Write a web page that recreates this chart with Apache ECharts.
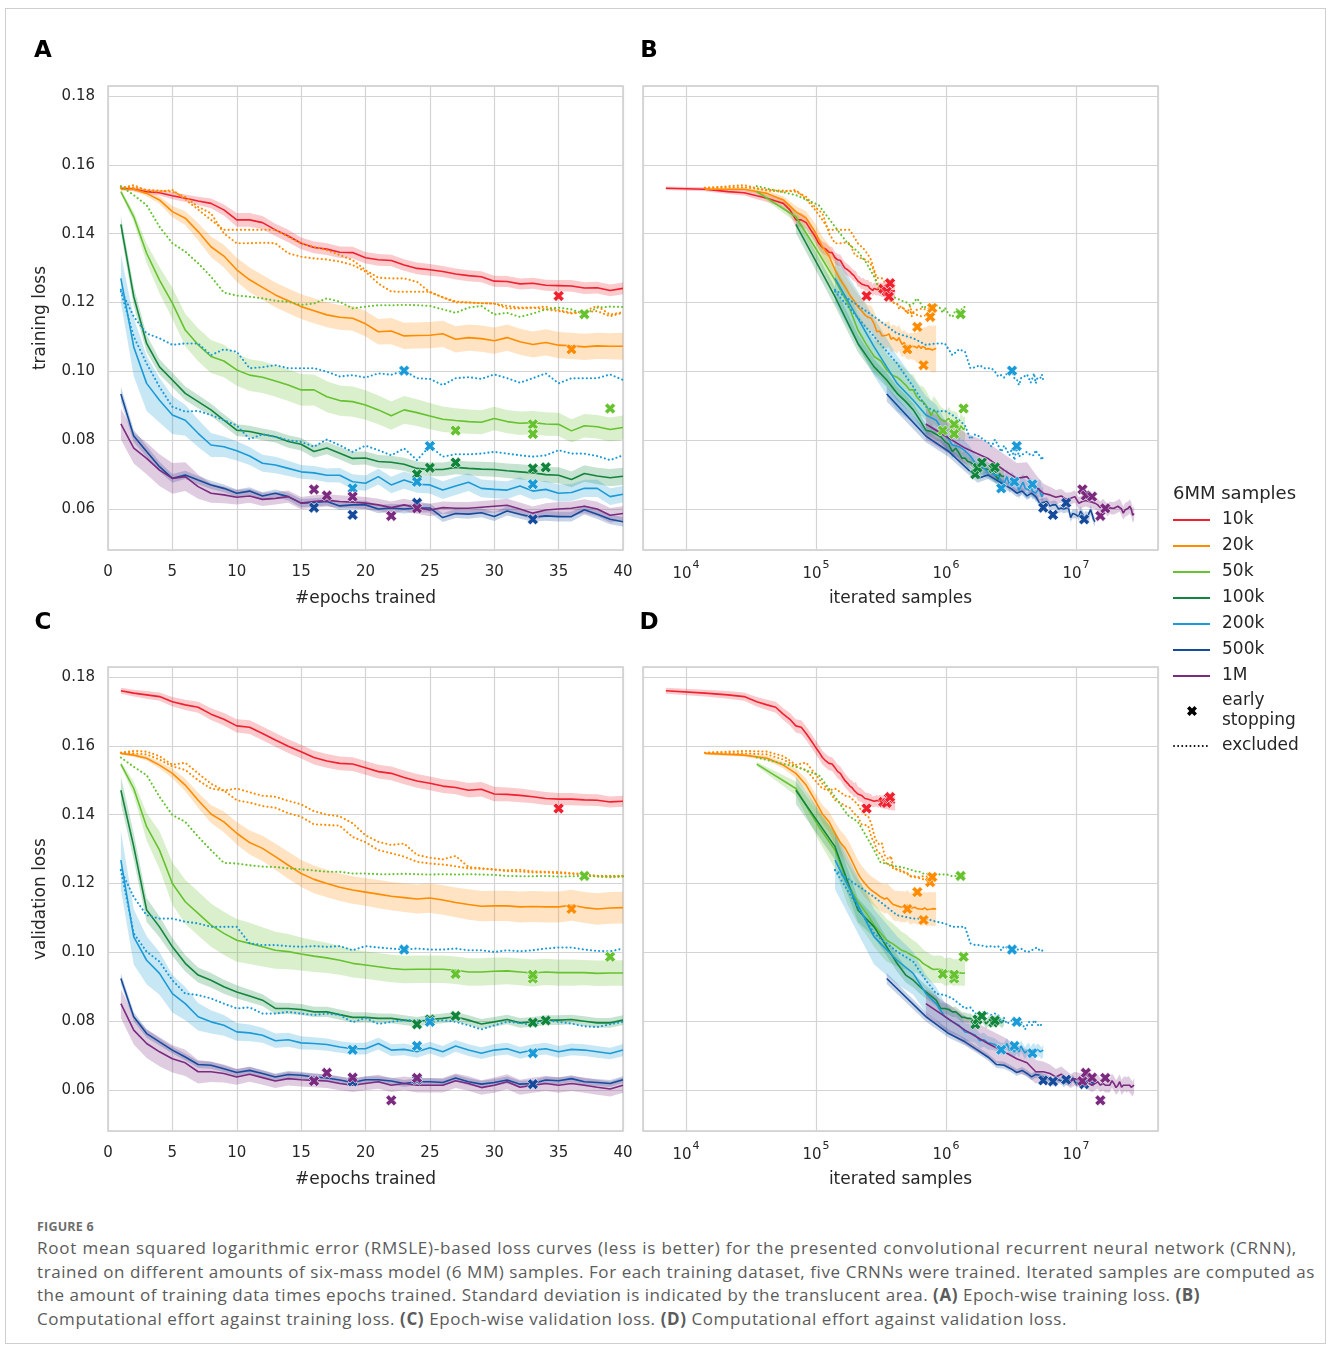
<!DOCTYPE html>
<html>
<head>
<meta charset="utf-8">
<script src="https://cdn.jsdelivr.net/npm/echarts@6/dist/echarts.min.js"></script>
<style>
  html, body { margin: 0; padding: 0; background: #fff; }
  #frame { position: absolute; left: 5px; top: 8px; width: 1321px; height: 1336px; border: 1px solid #cfcfcf; box-sizing: border-box; }
  #chart { position: absolute; left: 0; top: 0; width: 1328px; height: 1200px; }
  #caption { position: absolute; left: 37px; top: 1218px; font-family: "Open Sans", sans-serif; color: #5b5b5b; }
  #caption .fig { font-size: 12.5px; font-weight: 700; color: #6e6e6e; letter-spacing: 0.2px; height: 18px; }
  #caption .ln { font-size: 17px; line-height: 23.6px; white-space: nowrap; display: block; }
  #caption .ln span { display: inline-block; }
</style>
</head>
<body>
<div id="frame"></div>
<div id="chart"></div>
<div id="caption">
  <div class="fig">FIGURE 6</div>
  <div class="ln"><span data-w="1260">Root mean squared logarithmic error (RMSLE)-based loss curves (less is better) for the presented convolutional recurrent neural network (CRNN),</span></div>
  <div class="ln"><span data-w="1278">trained on different amounts of six-mass model (6 MM) samples. For each training dataset, five CRNNs were trained. Iterated samples are computed as</span></div>
  <div class="ln"><span data-w="1163">the amount of training data times epochs trained. Standard deviation is indicated by the translucent area. <b>(A)</b> Epoch-wise training loss. <b>(B)</b></span></div>
  <div class="ln"><span data-w="1030">Computational effort against training loss. <b>(C)</b> Epoch-wise validation loss. <b>(D)</b> Computational effort against validation loss.</span></div>
</div>
<script>
// dataset sizes (6MM samples); iterated samples use the 70 % training split
const samples = [10000, 20000, 50000, 100000, 200000, 500000, 1000000]
const sampleLabels = ['10k', '20k', '50k', '100k', '200k', '500k', '1M']
const colors = ['#f0202e', '#ff8c00', '#66c22e', '#12853c', '#1a9bd7', '#164b9c', '#7b2a7f']
const trainShare = 0.7
const epochsShown = 40

const yTicks = [0.06, 0.08, 0.10, 0.12, 0.14, 0.16, 0.18]
const logTicks = [1e4, 1e5, 1e6, 1e7]
const logTickExp = ['4', '5', '6', '7']

// mean training loss per epoch (epoch 1..n)
const train10k = [.1532,.1529,.1522,.1519,.1510,.1503,.1495,.1488,.1469,.1440,.1440,.1432,.1411,.1393,.1372,.1360,.1355,.1346,.1345,.1330,
  .1324,.1322,.1309,.1299,.1295,.1290,.1283,.1278,.1275,.1262,.1261,.1254,.1256,.1250,.1249,.1248,.1242,.1243,.1235,.1241,
  .1240,.1238,.1241,.1237,.1239,.1236,.1238,.1235,.1237,.1234,.1236,.1233,.1235,.1234,.1236,.1233,.1235,.1234]
const train20k = [.1529,.1529,.1517,.1498,.1464,.1445,.1406,.1362,.1335,.1295,.1266,.1244,.1222,.1205,.1188,.1176,.1164,.1157,.1154,.1138,
  .1115,.1117,.1103,.1104,.1105,.1109,.1093,.1098,.1095,.1089,.1098,.1086,.1078,.1084,.1076,.1074,.1071,.1074,.1073,.1073,
  .1072,.1070,.1068,.1075,.1070,.1066,.1072,.1068,.1070,.1064,.1069,.1066,.1071,.1065,.1068,.1062,.1067,.1064,.1066,.1065]
const train50k = [.1522,.1449,.1343,.1265,.1198,.1120,.1077,.1043,.1030,.1004,.0989,.0983,.0972,.0960,.0946,.0946,.0926,.0915,.0912,.0902,
  .0888,.0871,.0888,.0880,.0870,.0861,.0857,.0854,.0852,.0863,.0854,.0849,.0851,.0847,.0846,.0827,.0842,.0839,.0831,.0837]
const train100k = [.1427,.1217,.1081,.1013,.0975,.0936,.0912,.0888,.0858,.0829,.0825,.0817,.0810,.0796,.0788,.0767,.0777,.0762,.0747,.0748,
  .0738,.0736,.0730,.0718,.0715,.0715,.0721,.0718,.0716,.0715,.0711,.0708,.0705,.0700,.0698,.0686,.0703,.0696,.0691,.0695]
const train200k = [.1270,.1071,.0965,.0916,.0873,.0858,.0820,.0786,.0781,.0769,.0754,.0733,.0728,.0718,.0708,.0705,.0698,.0698,.0679,.0675,
  .0694,.0670,.0684,.0672,.0670,.0655,.0667,.0678,.0660,.0657,.0655,.0667,.0652,.0657,.0646,.0648,.0660,.0660,.0636,.0643]
const train500k = [.0934,.0812,.0767,.0723,.0689,.0699,.0684,.0670,.0660,.0646,.0652,.0638,.0646,.0636,.0617,.0619,.0622,.0609,.0612,.0612,
  .0600,.0603,.0600,.0603,.0603,.0575,.0587,.0585,.0589,.0578,.0594,.0585,.0576,.0580,.0578,.0578,.0598,.0585,.0570,.0563]
const train1M = [.0847,.0777,.0747,.0713,.0689,.0694,.0665,.0646,.0641,.0634,.0638,.0628,.0631,.0636,.0617,.0622,.0625,.0622,.0620,.0617,
  .0612,.0604,.0612,.0604,.0597,.0604,.0602,.0602,.0605,.0608,.0611,.0600,.0588,.0597,.0600,.0602,.0608,.0600,.0582,.0587]

// standard deviation of training loss
const trainSd10k = [.0005,.0006,.0007,.0008,.0010,.0011,.0012,.0014,.0016,.0020,.0020,.0019,.0018,.0018,.0017,.0017,.0017,.0017,.0017,.0017,
  .0017,.0017,.0017,.0017,.0017,.0016,.0016,.0016,.0016,.0016,.0016,.0016,.0016,.0016,.0016,.0017,.0017,.0017,.0017,.0017,
  .0018,.0018,.0019,.0019,.0020,.0021,.0021,.0022,.0023,.0023,.0024,.0024,.0025,.0025,.0025,.0026,.0026,.0026]
const trainSd20k = [.0004,.0005,.0008,.0011,.0016,.0020,.0025,.0030,.0033,.0035,.0036,.0036,.0036,.0036,.0036,.0036,.0036,.0036,.0036,.0037,
  .0037,.0038,.0038,.0038,.0038,.0038,.0038,.0038,.0038,.0038,.0038,.0038,.0038,.0038,.0038,.0038,.0038,.0038,.0038,.0039,
  .0040,.0042,.0045,.0048,.0050,.0052,.0055,.0058,.0060,.0062,.0063,.0064,.0065,.0066,.0067,.0067,.0068,.0068,.0068,.0068]
const trainSd50k = [.0005,.0015,.0028,.0038,.0045,.0047,.0048,.0048,.0047,.0046,.0046,.0046,.0046,.0046,.0046,.0045,.0045,.0044,.0044,.0043,
  .0042,.0041,.0040,.0039,.0038,.0037,.0036,.0035,.0035,.0034,.0034,.0034,.0034,.0034,.0034,.0034,.0034,.0034,.0035,.0035]
const trainSd100k = [.0025,.0028,.0025,.0022,.0021,.0020,.0019,.0018,.0017,.0017,.0017,.0017,.0017,.0018,.0018,.0018,.0018,.0018,.0019,.0019,
  .0019,.0019,.0019,.0020,.0020,.0020,.0020,.0020,.0021,.0021,.0021,.0022,.0022,.0022,.0023,.0023,.0024,.0024,.0025,.0025]
const trainSd200k = [.0070,.0085,.0080,.0065,.0055,.0045,.0040,.0035,.0030,.0028,.0026,.0025,.0024,.0022,.0020,.0020,.0020,.0021,.0022,.0022,
  .0023,.0024,.0025,.0025,.0025,.0026,.0026,.0026,.0026,.0026,.0026,.0025,.0025,.0025,.0025,.0025,.0025,.0025,.0024,.0024]
const trainSd500k = [.0022,.0018,.0016,.0014,.0013,.0012,.0012,.0012,.0011,.0011,.0011,.0011,.0011,.0011,.0012,.0012,.0012,.0012,.0012,.0012,
  .0012,.0012,.0013,.0013,.0013,.0013,.0013,.0013,.0013,.0013,.0013,.0013,.0013,.0014,.0014,.0014,.0014,.0014,.0014,.0014]
const trainSd1M = [.0045,.0045,.0046,.0046,.0045,.0042,.0035,.0028,.0024,.0021,.0020,.0019,.0018,.0018,.0018,.0018,.0018,.0018,.0018,.0018,
  .0018,.0018,.0018,.0018,.0018,.0018,.0018,.0018,.0018,.0018,.0019,.0019,.0019,.0020,.0020,.0020,.0020,.0021,.0021,.0021]

// mean validation loss per epoch
const val10k = [.1760,.1753,.1748,.1743,.1728,.1719,.1712,.1692,.1677,.1658,.1654,.1636,.1617,.1599,.1583,.1566,.1556,.1549,.1547,.1536,
  .1525,.1520,.1508,.1498,.1491,.1483,.1479,.1471,.1474,.1460,.1459,.1456,.1452,.1447,.1445,.1445,.1443,.1442,.1437,.1439,
  .1439,.1441,.1437,.1440,.1438,.1436,.1439,.1437,.1435,.1438,.1436,.1434,.1437,.1435,.1433,.1436,.1434,.1435]
const val20k = [.1578,.1573,.1564,.1544,.1520,.1486,.1442,.1402,.1379,.1346,.1319,.1302,.1278,.1253,.1229,.1212,.1200,.1189,.1181,.1175,
  .1169,.1163,.1159,.1155,.1158,.1152,.1145,.1139,.1134,.1135,.1135,.1132,.1133,.1132,.1132,.1137,.1130,.1126,.1129,.1130,
  .1131,.1128,.1127,.1130,.1126,.1128,.1125,.1127,.1129,.1126,.1124,.1127,.1125,.1128,.1126,.1124,.1127,.1125,.1126,.1126]
const val50k = [.1547,.1476,.1365,.1297,.1200,.1147,.1113,.1079,.1055,.1035,.1026,.1016,.1006,.1002,.0995,.0989,.0984,.0977,.0968,.0963,
  .0958,.0953,.0950,.0951,.0951,.0951,.0948,.0943,.0943,.0945,.0946,.0943,.0940,.0943,.0941,.0941,.0941,.0939,.0940,.0940]
const val100k = [.1471,.1307,.1123,.1074,.1016,.0968,.0934,.0919,.0900,.0885,.0873,.0861,.0837,.0837,.0834,.0827,.0827,.0819,.0811,.0811,
  .0808,.0808,.0803,.0798,.0805,.0808,.0813,.0803,.0792,.0798,.0805,.0795,.0798,.0803,.0803,.0805,.0800,.0795,.0795,.0803]
const val200k = [.1268,.1045,.0977,.0939,.0880,.0851,.0813,.0798,.0788,.0769,.0766,.0759,.0743,.0746,.0737,.0735,.0732,.0725,.0720,.0720,
  .0735,.0716,.0718,.0711,.0723,.0711,.0728,.0716,.0707,.0716,.0720,.0708,.0716,.0720,.0711,.0718,.0716,.0711,.0706,.0716]
const val500k = [.0924,.0813,.0764,.0740,.0716,.0696,.0674,.0672,.0662,.0651,.0657,.0648,.0638,.0645,.0643,.0638,.0635,.0629,.0622,.0630,
  .0630,.0626,.0619,.0624,.0624,.0622,.0635,.0624,.0617,.0622,.0629,.0617,.0619,.0629,.0627,.0633,.0624,.0622,.0619,.0630]
const val1M = [.0851,.0774,.0735,.0711,.0691,.0679,.0653,.0653,.0648,.0638,.0646,.0636,.0626,.0633,.0630,.0628,.0626,.0619,.0614,.0619,
  .0624,.0614,.0619,.0614,.0614,.0614,.0627,.0619,.0607,.0614,.0624,.0608,.0614,.0619,.0614,.0619,.0614,.0608,.0603,.0614]

// standard deviation of validation loss
const valSd10k = [.0009,.0010,.0011,.0012,.0014,.0015,.0016,.0017,.0018,.0019,.0020,.0020,.0020,.0020,.0020,.0020,.0020,.0020,.0020,.0020,
  .0020,.0020,.0020,.0020,.0020,.0020,.0020,.0021,.0021,.0021,.0020,.0020,.0019,.0019,.0018,.0018,.0017,.0017,.0016,.0016,
  .0016,.0017,.0017,.0018,.0018,.0019,.0019,.0020,.0020,.0021,.0021,.0021,.0022,.0022,.0022,.0022,.0023,.0023]
const valSd20k = [.0004,.0005,.0007,.0010,.0014,.0018,.0022,.0026,.0030,.0033,.0035,.0037,.0038,.0039,.0039,.0040,.0040,.0040,.0040,.0040,
  .0041,.0041,.0042,.0042,.0043,.0043,.0043,.0044,.0044,.0044,.0044,.0045,.0045,.0045,.0045,.0045,.0045,.0046,.0046,.0046,
  .0046,.0046,.0047,.0047,.0047,.0048,.0048,.0048,.0048,.0048,.0049,.0049,.0049,.0049,.0049,.0049,.0049,.0049,.0049,.0049]
const valSd50k = [.0006,.0020,.0040,.0055,.0062,.0064,.0064,.0063,.0063,.0062,.0060,.0057,.0054,.0051,.0048,.0046,.0044,.0042,.0041,.0040,
  .0040,.0040,.0040,.0040,.0040,.0040,.0040,.0040,.0040,.0040,.0039,.0039,.0039,.0038,.0038,.0038,.0037,.0037,.0037,.0037]
const valSd100k = [.0040,.0038,.0035,.0030,.0026,.0024,.0022,.0021,.0020,.0019,.0018,.0017,.0017,.0016,.0016,.0015,.0015,.0015,.0015,.0015,
  .0014,.0014,.0014,.0014,.0014,.0014,.0014,.0014,.0014,.0014,.0014,.0014,.0014,.0014,.0014,.0014,.0014,.0014,.0014,.0014]
const valSd200k = [.0085,.0080,.0070,.0062,.0055,.0048,.0040,.0034,.0030,.0026,.0024,.0022,.0021,.0020,.0019,.0018,.0018,.0017,.0017,.0017,
  .0017,.0017,.0017,.0017,.0017,.0017,.0017,.0017,.0017,.0017,.0017,.0017,.0017,.0017,.0017,.0017,.0017,.0017,.0017,.0018]
const valSd500k = [.0016,.0014,.0012,.0011,.0010,.0010,.0010,.0010,.0010,.0010,.0010,.0010,.0010,.0010,.0010,.0010,.0010,.0010,.0010,.0010,
  .0010,.0010,.0010,.0010,.0010,.0010,.0010,.0010,.0010,.0010,.0010,.0010,.0010,.0010,.0010,.0010,.0010,.0010,.0010,.0010]
const valSd1M = [.0042,.0042,.0042,.0042,.0040,.0038,.0034,.0030,.0026,.0023,.0022,.0021,.0020,.0020,.0020,.0020,.0020,.0020,.0020,.0020,
  .0020,.0020,.0020,.0021,.0021,.0021,.0021,.0021,.0021,.0022,.0022,.0022,.0022,.0022,.0022,.0022,.0022,.0022,.0022,.0022]

// single runs that were excluded from the mean (dotted)
const train20kExA = [.1533,.1541,.1525,.1522,.1527,.1500,.1470,.1440,.1411,.1411,.1411,.1411,.1411,.1391,.1372,.1362,.1352,.1338,.1323,.1294,
  .1272,.1270,.1270,.1260,.1230,.1215,.1200,.1200,.1198,.1197,.1190,.1185,.1185,.1188,.1178,.1170,.1175,.1190,.1165,.1172,
  .1172,.1178,.1175,.1180,.1176,.1182,.1178,.1180,.1185,.1181,.1178,.1183,.1180,.1182,.1179,.1184,.1181,.1183,.1182]
const train20kExB = [.1533,.1535,.1527,.1525,.1522,.1507,.1478,.1459,.1401,.1372,.1372,.1374,.1372,.1343,.1333,.1328,.1325,.1319,.1309,.1290,
  .1255,.1232,.1231,.1231,.1231,.1215,.1203,.1200,.1198,.1197,.1183,.1183,.1185,.1180,.1175,.1168,.1172,.1175,.1160,.1170,
  .1168,.1165,.1170,.1162,.1166,.1160,.1164,.1161,.1158,.1163,.1159,.1162,.1160,.1158,.1161,.1159,.1162,.1160]
const train50kEx = [.1538,.1512,.1483,.1420,.1372,.1348,.1314,.1275,.1229,.1220,.1217,.1212,.1205,.1202,.1193,.1197,.1212,.1202,.1183,.1188,
  .1192,.1192,.1193,.1192,.1190,.1180,.1170,.1185,.1190,.1165,.1170,.1158,.1168,.1180,.1185,.1180,.1166,.1185,.1188,.1187]
const train200kExA = [.1237,.1159,.1110,.1096,.1077,.1081,.1081,.1047,.1064,.1057,.1009,.1012,.1018,.1009,.1009,.1009,.0999,.0985,.0989,.0982,
  .0994,.0990,.1002,.0980,.0978,.0960,.0980,.0983,.0978,.0991,.0980,.0967,.0980,.0994,.0965,.0980,.0980,.0980,.0991,.0975]
const train200kExB = [.1232,.1101,.1023,.0955,.0897,.0883,.0885,.0873,.0858,.0843,.0803,.0817,.0810,.0800,.0795,.0781,.0802,.0785,.0766,.0784,
  .0771,.0756,.0776,.0742,.0783,.0752,.0759,.0759,.0761,.0766,.0761,.0756,.0752,.0756,.0771,.0761,.0761,.0754,.0742,.0756]

const val20kExA = [.1580,.1585,.1583,.1570,.1545,.1551,.1520,.1490,.1470,.1476,.1465,.1455,.1452,.1440,.1430,.1410,.1400,.1395,.1375,.1340,
  .1321,.1312,.1316,.1283,.1275,.1270,.1280,.1248,.1244,.1241,.1238,.1240,.1235,.1234,.1233,.1230,.1228,.1222,.1222,.1222,
  .1221,.1220,.1222,.1219,.1221,.1220,.1218,.1221,.1219,.1220,.1218,.1220,.1219,.1218,.1220,.1219,.1220,.1218,.1219]
const val20kExB = [.1580,.1578,.1575,.1560,.1540,.1530,.1500,.1476,.1470,.1442,.1435,.1425,.1420,.1404,.1394,.1372,.1370,.1368,.1335,.1320,
  .1297,.1288,.1278,.1263,.1258,.1255,.1250,.1244,.1243,.1240,.1236,.1235,.1232,.1232,.1230,.1228,.1225,.1220,.1218,.1220,
  .1219,.1217,.1215,.1216,.1213,.1214,.1211,.1212,.1209,.1210,.1208,.1207,.1206,.1204,.1205,.1203,.1204,.1203]
const val50kEx = [.1566,.1539,.1515,.1452,.1399,.1379,.1336,.1297,.1260,.1258,.1253,.1249,.1248,.1244,.1241,.1238,.1234,.1234,.1229,.1229,
  .1227,.1227,.1228,.1227,.1226,.1227,.1226,.1227,.1226,.1225,.1222,.1221,.1221,.1222,.1220,.1221,.1222,.1221,.1220,.1221]
const val200kExA = [.1239,.1161,.1108,.1098,.1098,.1089,.1084,.1074,.1074,.1074,.1026,.1021,.1021,.1018,.1016,.1018,.1016,.1018,.1006,.1018,
  .1014,.1011,.1008,.1011,.1008,.1008,.1011,.1006,.1006,.1001,.1006,.1003,.1006,.1011,.1014,.1014,.1008,.1004,.1003,.1011]
const val200kExB = [.1239,.1055,.1002,.0973,.0919,.0880,.0876,.0866,.0851,.0837,.0840,.0822,.0822,.0827,.0822,.0818,.0822,.0818,.0797,.0809,
  .0792,.0798,.0803,.0803,.0798,.0803,.0798,.0788,.0776,.0788,.0798,.0795,.0788,.0803,.0798,.0793,.0785,.0783,.0791,.0798]

// early stopping: [epoch, training loss, validation loss]
const stops10k = [[35, .1219, .1418], [47, .1240, .1437], [50, .1232, .1434], [52, .1217, .1448], [53, .1256, .1451]]
const stops20k = [[36, .1064, .1126], [43, .1129, .1175], [48, .1018, .1094], [54, .1158, .1204], [56, .1184, .1219]]
const stops50k = [[27, .0828, .0937], [33, .0846, .0924], [33, .0818, .0935], [37, .1166, .1222], [39, .0892, .0987]]
const stops100k = [[24, .0701, .0791], [25, .0720, .0805], [27, .0735, .0815], [33, .0718, .0796], [34, .0721, .0802]]
const stops200k = [[19, .0660, .0717], [23, .1002, .1008], [24, .0679, .0728], [25, .0783, .0798], [33, .0672, .0707]]
const stops500k = [[16, .0604, .0628], [19, .0583, .0625], [24, .0618, .0630], [33, .0570, .0617]]
const stops1M = [[16, .0657, .0626], [17, .0639, .0650], [19, .0636, .0636], [22, .0580, .0570], [24, .0602, .0635]]

const trainMeans = [train10k, train20k, train50k, train100k, train200k, train500k, train1M]
const trainSds = [trainSd10k, trainSd20k, trainSd50k, trainSd100k, trainSd200k, trainSd500k, trainSd1M]
const valMeans = [val10k, val20k, val50k, val100k, val200k, val500k, val1M]
const valSds = [valSd10k, valSd20k, valSd50k, valSd100k, valSd200k, valSd500k, valSd1M]
const stops = [stops10k, stops20k, stops50k, stops100k, stops200k, stops500k, stops1M]
const excluded = [
  { size: 1, train: train20kExA, val: val20kExA },
  { size: 1, train: train20kExB, val: val20kExB },
  { size: 2, train: train50kEx, val: val50kEx },
  { size: 4, train: train200kExA, val: val200kExA },
  { size: 4, train: train200kExB, val: val200kExB }
]

const font = 'DejaVu Sans'
const textColor = '#262626'
const gridColor = '#d4d4d4'

// thick "x" used for early stopping marks
const crossPts = [[2.6, 0], [5, 2.4], [7.4, 0], [10, 2.6], [7.6, 5], [10, 7.4], [7.4, 10], [5, 7.6], [2.6, 10], [0, 7.4], [2.4, 5], [0, 2.6]]
const crossPath = 'path://M' + crossPts.map(p => p.join(',')).join(' L') + ' Z'

function fade (hex, a) {
  const n = parseInt(hex.slice(1), 16)
  return `rgba(${n >> 16},${(n >> 8) & 255},${n & 255},${a})`
}

function xOf (log, size, epoch) {
  return log ? epoch * samples[size] * trainShare : epoch
}

function points (values, size, log) {
  const out = []
  values.forEach((v, i) => {
    if (!log && i + 1 > epochsShown) return
    out.push([xOf(log, size, i + 1), v])
  })
  return out
}

function bandSeries (gi, mean, sd, size, log) {
  const upper = points(mean.map((v, i) => v + sd[i]), size, log)
  const lower = points(mean.map((v, i) => v - sd[i]), size, log).reverse()
  const poly = upper.concat(lower)
  return {
    type: 'custom', xAxisIndex: gi, yAxisIndex: gi, silent: true, clip: true,
    data: [upper[0]],
    renderItem: (params, api) => ({
      type: 'polygon',
      shape: { points: poly.map(p => api.coord(p)) },
      style: { fill: fade(colors[size], 0.24) }
    })
  }
}

function lineSeries (gi, data, color, dotted) {
  return {
    type: 'line', xAxisIndex: gi, yAxisIndex: gi, data, symbol: 'none', silent: true,
    lineStyle: { color, width: dotted ? 2.1 : 1.6, type: dotted ? [0.1, 4] : 'solid', cap: dotted ? 'round' : 'butt' }
  }
}

const panels = [
  { log: false, means: trainMeans, sds: trainSds, key: 'train', col: 1 },
  { log: true, means: trainMeans, sds: trainSds, key: 'train', col: 1 },
  { log: false, means: valMeans, sds: valSds, key: 'val', col: 2 },
  { log: true, means: valMeans, sds: valSds, key: 'val', col: 2 }
]

const series = []
panels.forEach((p, gi) => {
  samples.forEach((n, s) => {
    series.push(bandSeries(gi, p.means[s], p.sds[s], s, p.log))
    series.push(lineSeries(gi, points(p.means[s], s, p.log), colors[s], false))
    excluded.filter(e => e.size === s).forEach(e => {
      series.push(lineSeries(gi, points(e[p.key], s, p.log), colors[s], true))
    })
  })
  samples.forEach((n, s) => {
    const data = stops[s]
      .filter(st => p.log || st[0] <= epochsShown)
      .map(st => [xOf(p.log, s, st[0]), st[p.col]])
    series.push({
      type: 'scatter', xAxisIndex: gi, yAxisIndex: gi, data, silent: true, z: 5,
      symbol: crossPath, symbolSize: 11,
      itemStyle: { color: colors[s], borderColor: '#ffffff', borderWidth: 0.6, opacity: 1 }
    })
  })
})

const gridBox = [
  { left: 108, top: 86 }, { left: 643, top: 86 },
  { left: 108, top: 667 }, { left: 643, top: 667 }
]

const labelStyle = { color: textColor, fontFamily: font, fontSize: 15 }
const nameStyle = { color: textColor, fontFamily: font, fontSize: 17 }

const xAxes = panels.map((p, gi) => p.log ? {
  type: 'log', gridIndex: gi, logBase: 10, min: 4668, max: 42740000,
  name: 'iterated samples', nameLocation: 'middle', nameGap: 40, nameTextStyle: nameStyle,
  axisLine: { show: false }, axisTick: { show: false }, minorTick: { show: false },
  splitLine: { show: true, lineStyle: { color: gridColor, width: 1.2 } },
  axisLabel: {
    ...labelStyle, margin: 10,
    formatter: v => {
      const k = logTicks.findIndex(t => Math.abs(t - v) / t < 1e-6)
      return k >= 0 ? `{b|10}{s|${logTickExp[k]}}` : ''
    },
    rich: {
      b: { fontFamily: font, fontSize: 15, color: textColor, lineHeight: 22, verticalAlign: 'bottom' },
      s: { fontFamily: font, fontSize: 11, color: textColor, lineHeight: 12, verticalAlign: 'top', padding: [0, 0, 0, 1] }
    }
  }
} : {
  type: 'value', gridIndex: gi, min: 0, max: 40, interval: 5,
  name: '#epochs trained', nameLocation: 'middle', nameGap: 40, nameTextStyle: nameStyle,
  axisLine: { show: false }, axisTick: { show: false },
  splitLine: { show: true, lineStyle: { color: gridColor, width: 1.2 } },
  axisLabel: { ...labelStyle, margin: 15 }
})

const yAxes = panels.map((p, gi) => ({
  type: 'value', gridIndex: gi, min: 0.04809, max: 0.1829, minInterval: 0.02, maxInterval: 0.02,
  name: gi === 0 ? 'training loss' : gi === 2 ? 'validation loss' : '',
  nameLocation: 'middle', nameGap: 59, nameTextStyle: nameStyle,
  axisLine: { show: false }, axisTick: { show: false },
  splitLine: { show: true, lineStyle: { color: gridColor, width: 1.2 } },
  axisLabel: {
    ...labelStyle, margin: 13, show: !p.log, padding: [7, 0, 0, 0],
    formatter: v => {
      const k = yTicks.findIndex(t => Math.abs(t - v) < 1e-6)
      return k >= 0 ? yTicks[k].toFixed(2) : ''
    }
  }
}))

// legend drawn as graphic elements
const legend = [{ type: 'text', x: 1173, y: 494, style: { text: '6MM samples', font: `18px "${font}"`, fill: textColor, verticalAlign: 'middle' } }]
sampleLabels.forEach((lab, s) => {
  const y = 520 + s * 26
  legend.push({ type: 'line', shape: { x1: 1173, y1: y, x2: 1210, y2: y }, style: { stroke: colors[s], lineWidth: 1.8 } })
  legend.push({ type: 'text', x: 1222, y, style: { text: lab, font: `17px "${font}"`, fill: textColor, verticalAlign: 'middle' } })
})
legend.push({ type: 'polygon', x: 1187, y: 706, shape: { points: crossPts }, style: { fill: '#000' } })
legend.push({ type: 'text', x: 1222, y: 711, style: { text: 'early\nstopping', font: `17px "${font}"`, fill: textColor, verticalAlign: 'middle', lineHeight: 20 } })
legend.push({ type: 'line', shape: { x1: 1174, y1: 746, x2: 1209, y2: 746 }, style: { stroke: '#000', lineWidth: 1.8, lineDash: [0.1, 4], lineCap: 'round' } })
legend.push({ type: 'text', x: 1222, y: 746, style: { text: 'excluded', font: `17px "${font}"`, fill: textColor, verticalAlign: 'middle' } })

const letters = [['A', 43, 51], ['B', 649, 51], ['C', 43, 623], ['D', 649, 623]].map(([t, x, y]) => ({
  type: 'text', x, y, style: { text: t, font: `bold 23px "${font}"`, fill: '#000', align: 'center', verticalAlign: 'middle' }
}))

const chart = echarts.init(document.getElementById('chart'), null, { renderer: 'canvas' })
chart.setOption({
  animation: false,
  textStyle: { fontFamily: font },
  grid: gridBox.map(g => ({ ...g, width: 515, height: 464, show: true, borderColor: '#cccccc', borderWidth: 1.5, backgroundColor: 'transparent' })),
  xAxis: xAxes,
  yAxis: yAxes,
  series,
  graphic: legend.concat(letters)
})

// stretch each caption line to the width it has in the figure
document.querySelectorAll('#caption .ln span').forEach(el => {
  const target = +el.dataset.w
  const chars = el.textContent.length
  const extra = (target - el.getBoundingClientRect().width) / chars
  el.style.letterSpacing = extra.toFixed(3) + 'px'
})
</script>
</body>
</html>
